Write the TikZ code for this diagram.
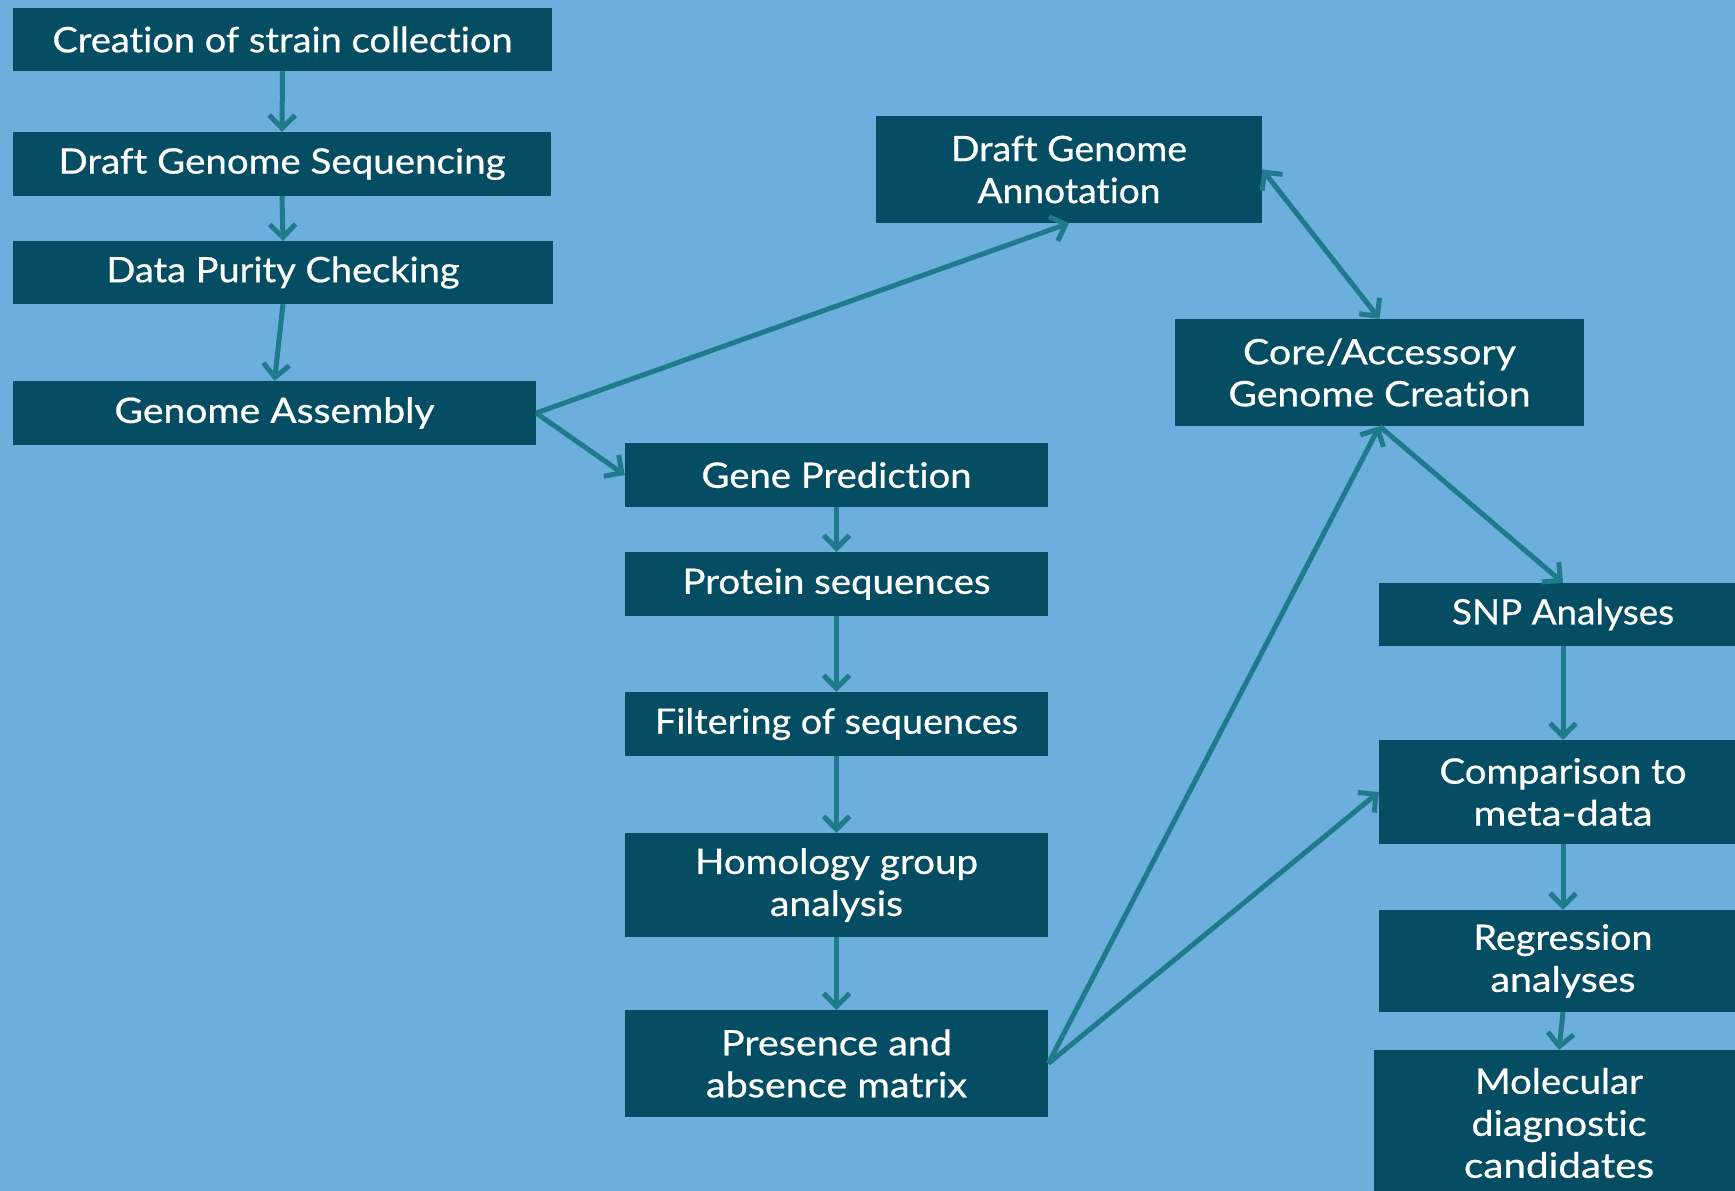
\documentclass[tikz,border=0pt]{standalone}
\usepackage{fontspec}
\setmainfont{Lato}[Ligatures={NoCommon,NoRare,NoDiscretionary}, FakeBold=0.6]
\usetikzlibrary{arrows.meta}
\definecolor{bgblue}{RGB}{108,174,220}
\definecolor{boxteal}{RGB}{5,77,99}
\definecolor{arrteal}{RGB}{31,122,140}
\newcommand\fl[2]{\setbox0\hbox{#2}\pgfmathsetmacro\flx{#1/\the\wd0}\scalebox{\flx}[1]{#2}}
\tikzset{
  box/.style={rectangle, fill=boxteal, text=white, inner sep=0pt, align=center,
    font=\fontsize{35}{42}\selectfont},
  conn/.style={draw=arrteal, line width=5pt,
    -{Straight Barb[length=13pt,width=26pt,line width=5pt]}},
  bicon/.style={draw=arrteal, line width=5pt,
    {Straight Barb[length=13pt,width=26pt,line width=5pt]}-{Straight Barb[length=13pt,width=26pt,line width=5pt]}}
}
\begin{document}
\begin{tikzpicture}[x=1pt,y=-1pt]
\useasboundingbox (0,0) rectangle (1735,1191);
\fill[bgblue] (0,0) rectangle (1735,1191);
\clip (0,0) rectangle (1735,1191);
% left column
\node[box, minimum width=539pt, minimum height=63pt] (cre) at (282.5,39.5) {\fl{460}{Creation of strain collection}};
\node[box, minimum width=538pt, minimum height=64pt] (dgs) at (282,164) {\fl{447}{Draft Genome Sequencing}};
\node[box, minimum width=540pt, minimum height=63pt] (dpc) at (283,272.5) {\fl{353}{Data Purity Checking}};
\node[box, minimum width=523pt, minimum height=64pt] (ga) at (274.5,413) {\fl{320}{Genome Assembly}};
% top middle / right
\node[box, minimum width=386pt, minimum height=107pt] (dga) at (1069,169.5) {\fl{236}{Draft Genome}\\\fl{183}{Annotation}};
\node[box, minimum width=409pt, minimum height=107pt] (core) at (1379.5,372.5) {\fl{273}{Core/Accessory}\\\fl{302}{Genome Creation}};
% middle column
\node[box, minimum width=423pt, minimum height=64pt] (gp) at (836.5,475) {\fl{270}{Gene Prediction}};
\node[box, minimum width=423pt, minimum height=64pt] (ps) at (836.5,584) {\fl{308}{Protein sequences}};
\node[box, minimum width=423pt, minimum height=64pt] (fs) at (836.5,724) {\fl{363}{Filtering of sequences}};
\node[box, minimum width=423pt, minimum height=104pt] (hg) at (836.5,885) {\fl{283}{Homology group}\\\fl{133}{analysis}};
\node[box, minimum width=423pt, minimum height=107pt] (pa) at (836.5,1063.5) {\fl{231}{Presence and}\\\fl{261}{absence matrix}};
% right column
\node[box, minimum width=368pt, minimum height=63pt] (snp) at (1563,614.5) {\fl{222}{SNP Analyses}};
\node[box, minimum width=368pt, minimum height=104pt] (cmp) at (1563,792) {\fl{247}{Comparison to}\\\fl{179}{meta-data}};
\node[box, minimum width=368pt, minimum height=102pt] (reg) at (1563,961) {\fl{179}{Regression}\\\fl{145}{analyses}};
\node[box, minimum width=370pt, minimum height=146pt] (mol) at (1559,1123) {\fl{168}{Molecular}\\\fl{175}{diagnostic}\\\fl{190}{candidates}};
% connectors
\draw[conn] (cre.south) -- (dgs.north);
\draw[conn] (dgs.south) -- (dpc.north);
\draw[conn] (dpc.south) -- (ga.north);
\draw[conn] (ga.east) -- (dga.south);
\draw[conn] (ga.east) -- (gp.west);
\draw[bicon] (dga.east) -- (core.north);
\draw[conn] (gp.south) -- (ps.north);
\draw[conn] (ps.south) -- (fs.north);
\draw[conn] (fs.south) -- (hg.north);
\draw[conn] (hg.south) -- (pa.north);
\draw[conn] (pa.east) -- (core.south);
\draw[conn] (pa.east) -- (cmp.west);
\draw[conn] (core.south) -- (snp.north);
\draw[conn] (snp.south) -- (cmp.north);
\draw[conn] (cmp.south) -- (reg.north);
\draw[conn] (reg.south) -- (mol.north);
\end{tikzpicture}
\end{document}
